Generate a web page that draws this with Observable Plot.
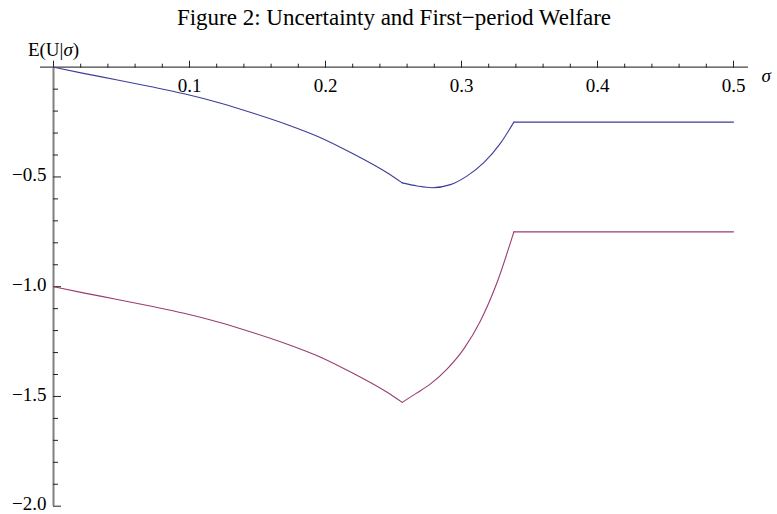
<!DOCTYPE html>
<html><head><meta charset="utf-8">
<script src="https://cdn.jsdelivr.net/npm/d3@7"></script>
<script src="https://cdn.jsdelivr.net/npm/@observablehq/plot@0.6"></script>
<style>
body{margin:0;background:#fff;}
#title{width:777px;height:34px;box-sizing:border-box;padding-top:3px;padding-left:11px;line-height:30px;text-align:center;font-family:"Liberation Serif","Times New Roman",serif;font-size:23px;color:#000;white-space:nowrap;}
</style></head><body>
<div id="title">Figure 2: Uncertainty and First−period Welfare</div>
<div id="chart"></div>
<script>
// Upper (blue) series
const sigmaUpper = [0, 0.022, 0.047, 0.071, 0.096, 0.123, 0.147, 0.172, 0.196, 0.221, 0.245, 0.2564, 0.2674, 0.2784, 0.2919, 0.3042, 0.3164, 0.3287, 0.3385, 0.5];
const welfareUpper = [0, -0.028, -0.058, -0.088, -0.121, -0.164, -0.210, -0.262, -0.320, -0.397, -0.480, -0.527, -0.541, -0.549, -0.535, -0.495, -0.435, -0.346, -0.25, -0.25];
// Lower (purple) series
const sigmaLower = [0, 0.022, 0.047, 0.071, 0.096, 0.123, 0.147, 0.172, 0.196, 0.221, 0.245, 0.2564, 0.2664, 0.2772, 0.2895, 0.3017, 0.314, 0.3262, 0.3385, 0.5];
const welfareLower = [-1, -1.028, -1.058, -1.088, -1.121, -1.164, -1.210, -1.262, -1.320, -1.397, -1.480, -1.527, -1.487, -1.443, -1.374, -1.283, -1.155, -0.98, -0.75, -0.75];
// kinks where the curves are not smooth
const kinks = [0.2564, 0.3385];

const xMajorTicks = [0, 0.1, 0.2, 0.3, 0.4, 0.5];
const xMinorTicks = [0.02, 0.04, 0.06, 0.08, 0.12, 0.14, 0.16, 0.18, 0.22, 0.24, 0.26, 0.28, 0.32, 0.34, 0.36, 0.38, 0.42, 0.44, 0.46, 0.48];
const xLabelValues = [0.1, 0.2, 0.3, 0.4, 0.5];
const xLabelText = ["0.1", "0.2", "0.3", "0.4", "0.5"];
const yMajorTicks = [-0.5, -1, -1.5, -2];
const yMinorTicks = [-0.1, -0.2, -0.3, -0.4, -0.6, -0.7, -0.8, -0.9, -1.1, -1.2, -1.3, -1.4, -1.6, -1.7, -1.8, -1.9];
const yLabelValues = [-0.5, -1, -1.5, -2];
const yLabelText = ["−0.5", "−1.0", "−1.5", "−2.0"];

const font = "Liberation Serif, Times New Roman, serif";

function table(sig, val) {
  const bounds = [-Infinity, ...kinks, Infinity];
  const rows = [];
  for (let p = 0; p < bounds.length - 1; p++) {
    sig.forEach((s, i) => {
      if (s >= bounds[p] - 1e-9 && s <= bounds[p + 1] + 1e-9) rows.push({s, v: val[i], seg: p});
    });
  }
  return rows;
}
const upper = table(sigmaUpper, welfareUpper);
const lower = table(sigmaLower, welfareLower);

const chart = Plot.plot({
  width: 777,
  height: 480,
  marginLeft: 53,
  marginRight: 44,
  marginTop: 32.7,
  marginBottom: 8.3,
  style: {fontFamily: font, fontSize: "19px", background: "#fff", color: "#000", overflow: "visible"},
  x: {domain: [0, 0.5], label: null},
  y: {domain: [-2, 0], label: null},
  marks: [
    Plot.ruleY([0], {x1: -0.0096, x2: 0.511, stroke: "#444", strokeWidth: 1.2}),
    Plot.ruleX([0], {y1: -2, y2: 0, stroke: "#808080", strokeWidth: 2}),
    Plot.axisX({anchor: "top", ticks: xMajorTicks, tickSize: 7, tickFormat: () => "", label: null, stroke: "#222"}),
    Plot.axisX({anchor: "top", ticks: xMinorTicks, tickSize: 4, tickFormat: () => "", label: null, stroke: "#222"}),
    Plot.axisY({anchor: "left", ticks: yMajorTicks, tickSize: 8, dx: 8, tickFormat: () => "", label: null, stroke: "#222"}),
    Plot.axisY({anchor: "left", ticks: yMinorTicks, tickSize: 5, dx: 5, tickFormat: () => "", label: null, stroke: "#222"}),
    Plot.text(xLabelValues, {x: d => d, frameAnchor: "top", dy: 11, text: (d, i) => xLabelText[i], fontSize: 19, fontFamily: font, fill: "#000"}),
    Plot.text(yLabelValues, {y: d => d, frameAnchor: "left", dx: -7, dy: -2, textAnchor: "end", text: (d, i) => yLabelText[i], fontSize: 19, fontFamily: font, fill: "#000"}),
    Plot.line(upper, {x: "s", y: "v", z: "seg", stroke: "#3d3d99", strokeWidth: 1.1, curve: "monotone-x"}),
    Plot.line(lower, {x: "s", y: "v", z: "seg", stroke: "#993d71", strokeWidth: 1.1, curve: "monotone-x"}),
    Plot.text(["E(U|σ)"], {x: 0, frameAnchor: "top", dy: -24.5, text: d => d, textAnchor: "middle", fontSize: 19, fontFamily: font, fill: "#000"}),
    Plot.text(["σ"], {x: 0.5, frameAnchor: "top", dx: 28, dy: 1.5, text: d => d, textAnchor: "start", fontSize: 19, fontStyle: "italic", fontFamily: font, fill: "#000"})
  ]
});
document.getElementById("chart").appendChild(chart);
chart.querySelectorAll("text").forEach(t => {
  if (t.textContent === "E(U|σ)") {
    while (t.firstChild) t.removeChild(t.firstChild);
    const ns = "http://www.w3.org/2000/svg";
    const a = document.createElementNS(ns, "tspan"); a.textContent = "E(U|";
    const b = document.createElementNS(ns, "tspan"); b.textContent = "σ"; b.setAttribute("font-style", "italic");
    const c = document.createElementNS(ns, "tspan"); c.textContent = ")";
    t.appendChild(a); t.appendChild(b); t.appendChild(c);
  }
});
</script>
</body></html>
